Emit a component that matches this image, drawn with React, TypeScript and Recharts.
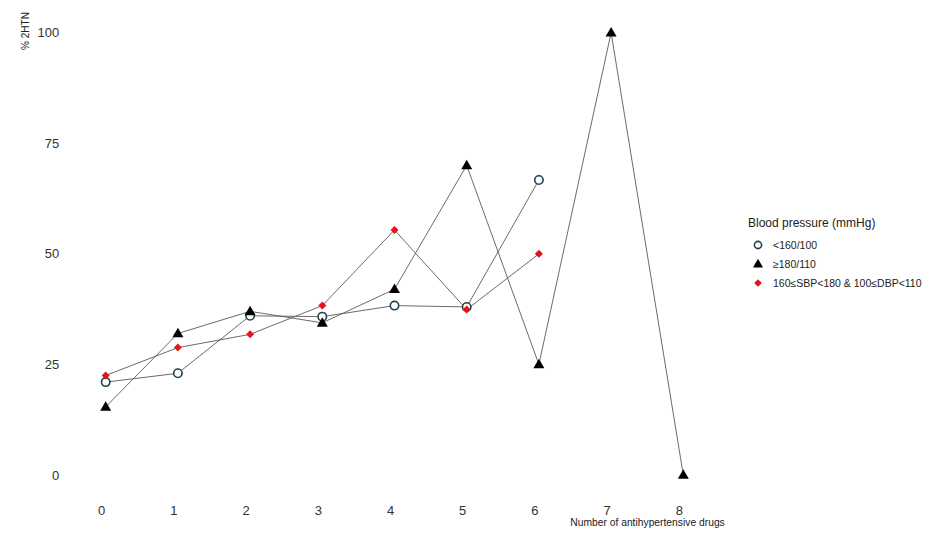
import { LineChart, Line, XAxis, YAxis, Label } from 'recharts';

// share of 2HTN (%) by number of antihypertensive drugs, per BP group
const drugCounts = [0, 1, 2, 3, 4, 5, 6, 7, 8];
const below160: (number | null)[] = [21, 23, 36, 35.8, 38.3, 38, 66.7, null, null];
const above180: (number | null)[] = [15.4, 32, 37, 34.4, 42, 70, 25, 100, 0];
const between160: (number | null)[] = [22.5, 28.8, 31.8, 38.3, 55.4, 37.4, 50, null, null];
const yTicks = [0, 25, 50, 75, 100];

const SERIES_NAMES = ['<160/100', '≥180/110', '160≤SBP<180 & 100≤DBP<110'];

const LINE_COLOR = '#5a5a5a';
const CIRCLE_COLOR = '#1f4150';
const RED = '#e3141c';
const FONT = '"Liberation Sans", Arial, sans-serif';

const data = drugCounts.map((n, i) => ({
  n,
  low: below160[i],
  high: above180[i],
  mid: between160[i],
}));

function circleMark(cx: number, cy: number, key?: string, r = 4.2) {
  return (
    <circle key={key} cx={cx} cy={cy} r={r} fill="#fff" stroke={CIRCLE_COLOR} strokeWidth={1.6} />
  );
}

function triangleMark(cx: number, cy: number, key?: string, s = 5.5) {
  const h = s * 1.73;
  return (
    <path
      key={key}
      d={`M${cx},${cy - h * 0.6}L${cx + s},${cy + h * 0.4}L${cx - s},${cy + h * 0.4}Z`}
      fill="#000"
    />
  );
}

function diamondMark(cx: number, cy: number, key?: string, s = 4) {
  return (
    <path
      key={key}
      d={`M${cx},${cy - s}L${cx + s},${cy}L${cx},${cy + s}L${cx - s},${cy}Z`}
      fill={RED}
    />
  );
}

const makeDot = (draw: (cx: number, cy: number, key?: string) => JSX.Element) => (props: any) => {
  const { cx, cy, index } = props;
  if (cx == null || cy == null || props.value == null) return <g key={`e-${index}`} />;
  return draw(cx, cy, `d-${index}`);
};

const XTick = ({ x, y, payload }: any) => (
  <text x={x - 4} y={y + 38} textAnchor="middle" fontSize={13} fill="#333" fontFamily={FONT}>
    {payload.value}
  </text>
);

const YTick = ({ x, y, payload }: any) => (
  <text x={x} y={y + 4.6} textAnchor="end" fontSize={13} fill="#333" fontFamily={FONT}>
    {payload.value}
  </text>
);

function LegendBox() {
  const rows = [
    (cx: number, cy: number) => circleMark(cx, cy, undefined, 3.6),
    (cx: number, cy: number) => triangleMark(cx, cy, undefined, 5),
    (cx: number, cy: number) => diamondMark(cx, cy, undefined, 3.8),
  ];
  return (
    <div style={{ position: 'absolute', left: 748, top: 215, fontFamily: FONT, color: '#222' }}>
      <div style={{ fontSize: 12, lineHeight: '16px', marginBottom: 4 }}>Blood pressure (mmHg)</div>
      {SERIES_NAMES.map((name, i) => (
        <div key={name} style={{ display: 'flex', alignItems: 'center', height: 19.3 }}>
          <svg width={20} height={14}>
            {rows[i](10, 7)}
          </svg>
          <span style={{ fontSize: 10.5, marginLeft: 5, color: '#222' }}>{name}</span>
        </div>
      ))}
    </div>
  );
}

export default function App() {
  return (
    <div
      style={{ position: 'absolute', left: 0, top: 0, width: 931, height: 534, background: '#fff' }}
    >
      <LineChart
        width={931}
        height={534}
        data={data}
        margin={{ top: 32.7, right: 247.7, bottom: 29, left: 45.7 }}
      >
        <XAxis
          dataKey="n"
          type="number"
          domain={[0, 8]}
          ticks={drugCounts}
          axisLine={false}
          tickLine={false}
          tickSize={0}
          height={30}
          tick={<XTick />}
        >
          <Label
            content={() => (
              <text x={647.5} y={526} textAnchor="middle" fontSize={10.3} fill="#222" fontFamily={FONT}>
                Number of antihypertensive drugs
              </text>
            )}
          />
        </XAxis>
        <YAxis
          type="number"
          domain={[0, 100]}
          ticks={yTicks}
          axisLine={false}
          tickLine={false}
          tickSize={0}
          tickMargin={46.5}
          width={60}
          tick={<YTick />}
        >
          <Label
            content={() => (
              <text
                x={25}
                y={31}
                transform="rotate(-90 25 31)"
                textAnchor="middle"
                dominantBaseline="central"
                fontSize={10}
                fill="#222"
                fontFamily={FONT}
              >
                % 2HTN
              </text>
            )}
          />
        </YAxis>
        <Line
          dataKey="low"
          stroke={LINE_COLOR}
          strokeWidth={0.9}
          dot={makeDot((cx, cy, k) => circleMark(cx, cy, k))}
          activeDot={false}
          isAnimationActive={false}
        />
        <Line
          dataKey="high"
          stroke={LINE_COLOR}
          strokeWidth={0.9}
          dot={makeDot((cx, cy, k) => triangleMark(cx, cy, k))}
          activeDot={false}
          isAnimationActive={false}
        />
        <Line
          dataKey="mid"
          stroke={LINE_COLOR}
          strokeWidth={0.9}
          dot={makeDot((cx, cy, k) => diamondMark(cx, cy, k))}
          activeDot={false}
          isAnimationActive={false}
        />
      </LineChart>
      <LegendBox />
    </div>
  );
}
